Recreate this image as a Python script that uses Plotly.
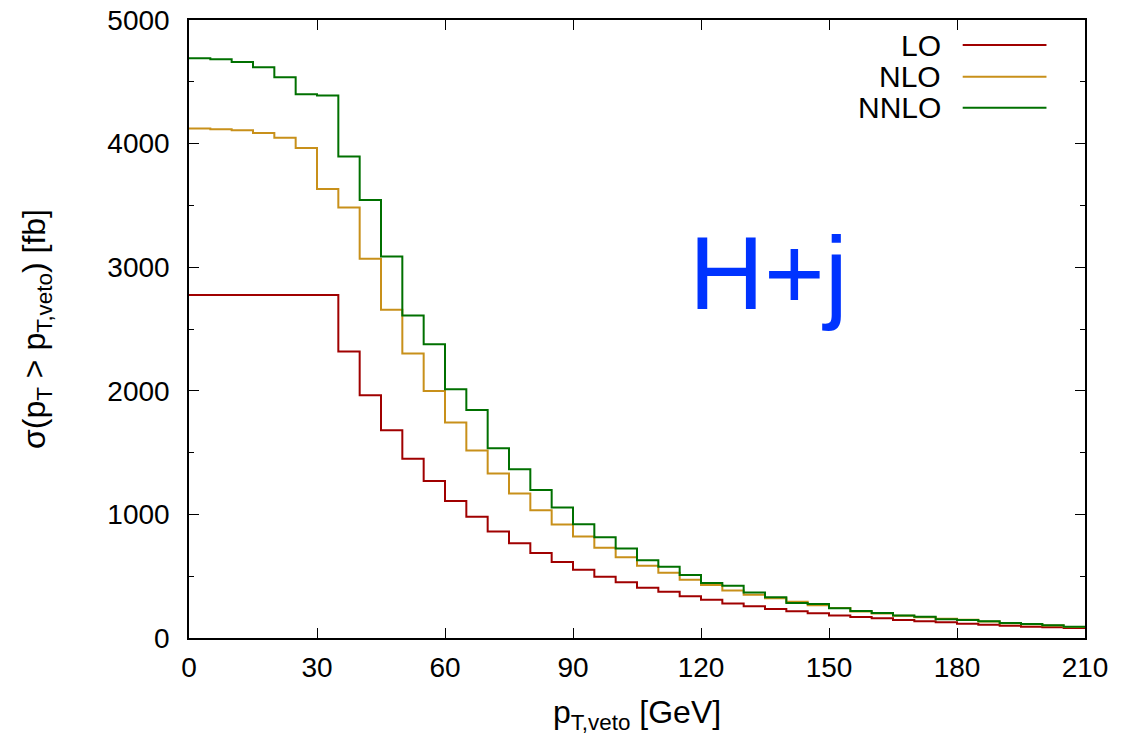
import numpy as np
import plotly.graph_objects as go

# bin edges (GeV) of the 5 GeV wide histogram bins
bin_edges = list(range(0, 215, 5))

series_names = ["LO", "NLO", "NNLO"]
series_colors = ["#a00000", "#c8901a", "#007000"]

lo = [2776, 2776, 2776, 2776, 2776, 2776, 2776,
      2318, 1963, 1680, 1451, 1270, 1109, 980, 862, 767, 687,
      614, 552, 495, 451, 407, 374, 337, 309, 280, 256,
      234, 216, 200, 183, 170, 159, 145, 135, 127, 116,
      107, 99, 91, 86, 81]
nlo = [4122, 4117, 4109, 4085, 4047, 3964, 3632, 3484, 3068, 2655,
       2302, 1998, 1743, 1516, 1330, 1170, 1034, 918, 821, 731,
       653, 584, 528, 471, 428, 385, 350, 321, 293, 264,
       243, 214, 198, 180, 168, 155, 147, 133, 119, 111,
       101, 90]
nnlo = [4690, 4682, 4661, 4618, 4537, 4400, 4389, 3896, 3544, 3086,
        2610, 2377, 2012, 1844, 1535, 1365, 1197, 1055, 921, 815,
        724, 629, 577, 509, 444, 423, 369, 329, 283, 275,
        240, 218, 202, 183, 172, 151, 145, 135, 121, 113,
        103, 91]

x_ticks = [0, 30, 60, 90, 120, 150, 180, 210]
y_ticks = [0, 1000, 2000, 3000, 4000, 5000]

FONT = "Liberation Sans, Arial, Helvetica, sans-serif"

fig = go.Figure()
for name, color, vals in zip(series_names, series_colors, [lo, nlo, nnlo]):
    fig.add_trace(go.Scatter(
        x=bin_edges, y=vals + [vals[-1]], mode="lines", name=name,
        line=dict(color=color, width=2, shape="hv"), showlegend=False,
        hoverinfo="x+y"))

axis_common = dict(
    showgrid=False, zeroline=False, showline=True, linecolor="black",
    linewidth=1.5, mirror="allticks", ticks="inside", ticklen=10,
    tickwidth=1.2, tickcolor="black", automargin=False,
    ticklabeloverflow="allow",
    tickfont=dict(family=FONT, size=28, color="black"),
)

fig.update_xaxes(
    range=[0, 210], tickmode="array", tickvals=x_ticks, ticklabelstandoff=4,
    title=dict(text="p<sub>T,veto</sub> [GeV]", font=dict(family=FONT, size=32, color="black"), standoff=30),
    **axis_common)
fig.update_yaxes(
    range=[0, 5000], tickmode="array", tickvals=y_ticks, ticklabelstandoff=12,
    minor=dict(dtick=500, ticks="inside", ticklen=5, tickwidth=1.2, tickcolor="black"),
    title=dict(text="σ(p<sub>T</sub> > p<sub>T,veto</sub>) [fb]", font=dict(family=FONT, size=32, color="black"), standoff=52),
    **axis_common)

# legend drawn gnuplot-style: right-aligned label, sample line to its right
legend_y = [0.9595, 0.908, 0.858]
for name, color, ly in zip(series_names, series_colors, legend_y):
    fig.add_annotation(x=0.841, y=ly, xref="paper", yref="paper", text=name,
                       showarrow=False, xanchor="right", yanchor="middle",
                       font=dict(family=FONT, size=30, color="black"))
    fig.add_shape(type="line", xref="paper", yref="paper", x0=0.8635, x1=0.957,
                  y0=ly, y1=ly, line=dict(color=color, width=2))

fig.add_annotation(x=0.647, y=0.59, xref="paper", yref="paper", text="H+j",
                   showarrow=False, xanchor="center", yanchor="middle",
                   font=dict(family=FONT, size=104, color="#0033ff"))

fig.update_layout(
    width=1146, height=735,
    margin=dict(l=189, r=61, t=20, b=97),
    plot_bgcolor="white", paper_bgcolor="white",
    font=dict(family=FONT, color="black"),
)

# remove the default 8px page margin so the figure fills the window exactly
fig.write_html("out.html", config={"displayModeBar": False},
               post_script="document.body.style.margin='0';document.body.style.overflow='hidden';")
